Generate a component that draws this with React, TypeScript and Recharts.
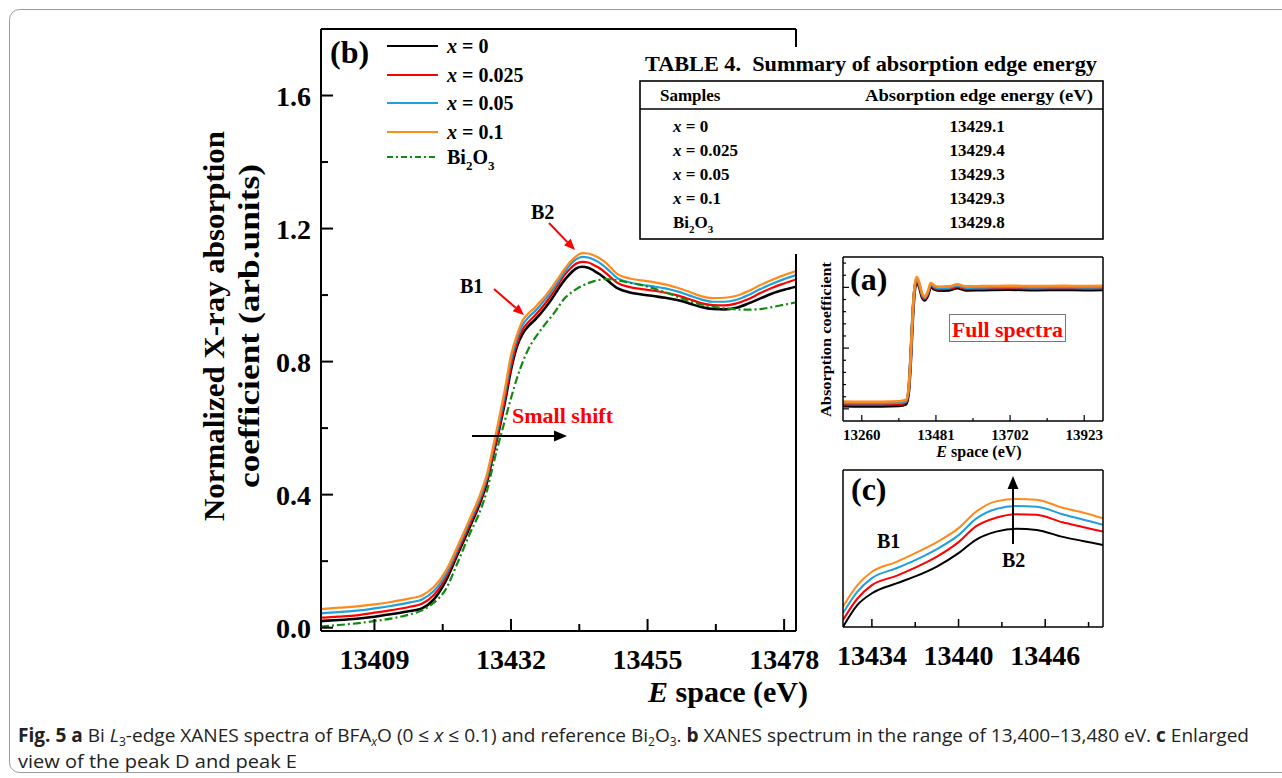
import React from 'react';
import { LineChart, Line, XAxis, YAxis } from 'recharts';

const SERIF = '"Liberation Serif", "Times New Roman", serif';
const SANS = '"Open Sans", "Noto Sans", sans-serif';

// ---- (b) XANES window 13400-13480 eV ----
const energyB = [13400, 13403, 13406, 13409, 13412, 13415, 13417, 13419, 13421, 13423, 13425, 13427,
  13428, 13429, 13430, 13431, 13432, 13433, 13434, 13435, 13436, 13437, 13438, 13439, 13440, 13441, 13442, 13443, 13444, 13445, 13446, 13447, 13448,
  13450, 13452, 13454, 13456, 13458, 13460, 13462, 13464, 13466, 13468, 13470, 13472, 13474, 13476, 13478, 13480];
const blackB = [0.020, 0.023, 0.027, 0.033, 0.041, 0.050, 0.058, 0.085, 0.140, 0.220, 0.300, 0.385,
  0.440, 0.520, 0.595, 0.680, 0.775, 0.845, 0.885, 0.908, 0.925, 0.945, 0.967, 0.992, 1.020, 1.045, 1.065, 1.080, 1.085, 1.082, 1.073, 1.062, 1.048,
  1.020, 1.008, 1.002, 0.997, 0.992, 0.985, 0.975, 0.964, 0.958, 0.957, 0.962, 0.975, 0.990, 1.005, 1.016, 1.025];
const redB = [0.030, 0.033, 0.037, 0.045, 0.053, 0.063, 0.072, 0.098, 0.150, 0.228, 0.308, 0.392,
  0.447, 0.525, 0.602, 0.690, 0.785, 0.855, 0.897, 0.920, 0.938, 0.958, 0.980, 1.005, 1.033, 1.060, 1.080, 1.095, 1.100, 1.098, 1.090, 1.080, 1.066,
  1.036, 1.024, 1.018, 1.013, 1.007, 0.999, 0.988, 0.976, 0.970, 0.969, 0.975, 0.988, 1.006, 1.022, 1.035, 1.047];
const cyanB = [0.043, 0.047, 0.051, 0.058, 0.066, 0.076, 0.085, 0.110, 0.160, 0.237, 0.318, 0.401,
  0.456, 0.538, 0.618, 0.708, 0.805, 0.870, 0.912, 0.934, 0.951, 0.971, 0.992, 1.016, 1.042, 1.069, 1.092, 1.108, 1.115, 1.113, 1.106, 1.096, 1.082,
  1.050, 1.038, 1.031, 1.026, 1.020, 1.011, 0.999, 0.987, 0.980, 0.980, 0.986, 1.000, 1.018, 1.034, 1.048, 1.060];
const orangeB = [0.056, 0.060, 0.064, 0.070, 0.078, 0.088, 0.097, 0.122, 0.170, 0.245, 0.325, 0.410,
  0.465, 0.545, 0.630, 0.720, 0.820, 0.880, 0.925, 0.946, 0.962, 0.982, 1.002, 1.026, 1.052, 1.078, 1.100, 1.117, 1.126, 1.125, 1.119, 1.110, 1.097,
  1.062, 1.050, 1.044, 1.039, 1.032, 1.022, 1.010, 0.997, 0.991, 0.992, 0.998, 1.012, 1.030, 1.046, 1.060, 1.072];
const bi2o3B = [0.003, 0.008, 0.013, 0.020, 0.028, 0.040, 0.052, 0.075, 0.115, 0.195, 0.280, 0.360,
  0.415, 0.490, 0.560, 0.625, 0.690, 0.750, 0.800, 0.840, 0.870, 0.895, 0.918, 0.940, 0.965, 0.990, 1.005, 1.018, 1.028, 1.036, 1.042, 1.046, 1.048,
  1.044, 1.037, 1.030, 1.020, 1.008, 0.995, 0.982, 0.972, 0.965, 0.960, 0.957, 0.956, 0.958, 0.964, 0.971, 0.978];
const xTicksB = [13409, 13420.5, 13432, 13443.5, 13455, 13466.5, 13478];
const xLabelsB = [13409, 13432, 13455, 13478];
const yTicksB = [0, 0.2, 0.4, 0.6, 0.8, 1.0, 1.2, 1.4, 1.6];
const yLabelsB = [0, 0.4, 0.8, 1.2, 1.6];

// ---- (a) full spectra ----
const energyA = [13204, 13260, 13320, 13370, 13392, 13400, 13406, 13412, 13418, 13424, 13432, 13440, 13448, 13456, 13466, 13476,
  13490, 13520, 13545, 13570, 13620, 13700, 13780, 13860, 13923, 13979];
const blackA = [0.024, 0.022, 0.022, 0.026, 0.040, 0.15, 0.42, 0.77, 0.99, 1.055, 1.0, 0.92, 0.895, 0.93, 1.005, 0.985,
  0.975, 0.978, 0.995, 0.978, 0.980, 0.983, 0.980, 0.982, 0.980, 0.982];
const redA = [0.036, 0.034, 0.034, 0.038, 0.052, 0.16, 0.43, 0.78, 1.00, 1.065, 1.01, 0.93, 0.905, 0.94, 1.015, 0.995,
  0.985, 0.988, 1.005, 0.988, 0.990, 0.993, 0.990, 0.992, 0.990, 0.992];
const cyanA = [0.048, 0.046, 0.046, 0.050, 0.063, 0.17, 0.44, 0.79, 1.01, 1.075, 1.02, 0.94, 0.915, 0.95, 1.025, 1.005,
  0.995, 0.998, 1.015, 0.998, 1.000, 1.003, 1.000, 1.002, 1.000, 1.002];
const orangeA = [0.060, 0.058, 0.058, 0.062, 0.075, 0.18, 0.45, 0.80, 1.02, 1.085, 1.03, 0.95, 0.925, 0.96, 1.035, 1.015,
  1.005, 1.008, 1.025, 1.008, 1.010, 1.013, 1.010, 1.012, 1.010, 1.012];
const xTicksA = [13260, 13370.5, 13481, 13591.5, 13702, 13812.5, 13923];
const xLabelsA = [13260, 13481, 13702, 13923];
const yTicksA = [0, 0.1, 0.2, 0.3, 0.4, 0.5, 0.6, 0.7, 0.8, 0.9, 1.0, 1.1, 1.2];
const yLongA = [0, 0.5, 1.0];

// ---- (c) peak zoom ----
const energyC = [13432, 13433, 13434, 13435.7, 13437, 13438.5, 13440, 13441.2, 13442.6, 13444, 13445.4, 13447.2, 13448.6, 13450];
const blackC = [0.900, 0.938, 0.958, 0.975, 0.987, 1.004, 1.027, 1.050, 1.064, 1.069, 1.067, 1.055, 1.048, 1.041];
const redC = [0.912, 0.949, 0.972, 0.988, 1.002, 1.021, 1.046, 1.073, 1.088, 1.094, 1.093, 1.080, 1.072, 1.064];
const cyanC = [0.924, 0.961, 0.984, 1.001, 1.015, 1.034, 1.058, 1.086, 1.103, 1.108, 1.107, 1.094, 1.085, 1.076];
const orangeC = [0.935, 0.972, 0.995, 1.012, 1.027, 1.046, 1.070, 1.098, 1.116, 1.120, 1.119, 1.105, 1.097, 1.087];
const xTicksC = [13434, 13437, 13440, 13443, 13446, 13449];
const xLabelsC = [13434, 13440, 13446];

// ---- table 4 ----
const tableSamples = ['0', '0.025', '0.05', '0.1', 'Bi2O3'];
const tableEdges = ['13429.1', '13429.4', '13429.3', '13429.3', '13429.8'];

const seriesKeys = ['s0', 's1', 's2', 's3', 's4'];
const seriesLabels = ['0', '0.025', '0.05', '0.1', 'Bi2O3'];
const seriesColors = ['#000000', '#ff0000', '#1f9fdc', '#ff8a1c', '#108a10'];

const rowsB = energyB.map((e, i) => ({ e, s0: blackB[i], s1: redB[i], s2: cyanB[i], s3: orangeB[i], s4: bi2o3B[i] }));
const rowsA = energyA.map((e, i) => ({ e, s0: blackA[i], s1: redA[i], s2: cyanA[i], s3: orangeA[i] }));
const rowsC = energyC.map((e, i) => ({ e, s0: blackC[i], s1: redC[i], s2: cyanC[i], s3: orangeC[i] }));

const near = (list: number[], v: number) => list.some((l) => Math.abs(l - v) < 1e-6);

const xTick = (labels: number[], major: number, minor: number, fs: number, dy: number, sw: number) => (props: any) => {
  const { x, y, payload } = props;
  const isMajor = near(labels, payload.value);
  return (
    <g>
      <line x1={x} y1={y} x2={x} y2={y - (isMajor ? major : minor)} stroke="#000" strokeWidth={sw} />
      {isMajor && (
        <text x={x} y={y + dy} textAnchor="middle" fontSize={fs} fontWeight="bold" fontFamily={SERIF} fill="#000">
          {payload.value}
        </text>
      )}
    </g>
  );
};

const yTick = (labels: number[], major: number, minor: number, fs: number, sw: number) => (props: any) => {
  const { x, y, payload } = props;
  const isMajor = near(labels, payload.value);
  return (
    <g>
      <line x1={x} y1={y} x2={x + (isMajor ? major : minor)} y2={y} stroke="#000" strokeWidth={sw} />
      {isMajor && fs > 0 && (
        <text x={x - 10} y={y + 10} textAnchor="end" fontSize={fs} fontWeight="bold" fontFamily={SERIF} fill="#000">
          {Number(payload.value).toFixed(1)}
        </text>
      )}
    </g>
  );
};

const Arrow = ({ x1, y1, x2, y2, color, w = 2, head = 11 }: any) => {
  const a = Math.atan2(y2 - y1, x2 - x1);
  const bx = x2 - head * Math.cos(a);
  const by = y2 - head * Math.sin(a);
  const hw = head * 0.42;
  const p1 = `${bx + hw * Math.sin(a)},${by - hw * Math.cos(a)}`;
  const p2 = `${bx - hw * Math.sin(a)},${by + hw * Math.cos(a)}`;
  return (
    <g>
      <line x1={x1} y1={y1} x2={bx} y2={by} stroke={color} strokeWidth={w} />
      <polygon points={`${x2},${y2} ${p1} ${p2}`} fill={color} />
    </g>
  );
};

const BiO = ({ x, y, fs, anchor = 'start' }: any) => (
  <text x={x} y={y} fontSize={fs} fontWeight="bold" fontFamily={SERIF} textAnchor={anchor}>
    Bi<tspan dy={fs * 0.3} fontSize={fs * 0.65}>2</tspan>
    <tspan dy={-fs * 0.3}>O</tspan>
    <tspan dy={fs * 0.3} fontSize={fs * 0.65}>3</tspan>
  </text>
);

const W = 1282;
const H = 778;

// plot boxes
const B = { l: 321, r: 796, t: 29, b: 631 };
const A = { l: 843, r: 1103, t: 257, b: 421 };
const C = { l: 843, r: 1103, t: 470, b: 627 };

// every axis takes 1px, so the margins leave that room
const margins = (p: { l: number; r: number; t: number; b: number }) => ({ left: p.l - 1, right: W - p.r - 1, top: p.t - 1, bottom: H - p.b - 1 });

const frameAxes = (sw: number) => [
  <XAxis key="xt" xAxisId="top" orientation="top" dataKey="e" type="number" domain={['dataMin', 'dataMax']} height={1} tick={false} tickLine={false}
    axisLine={{ stroke: '#000', strokeWidth: sw }} />,
  <YAxis key="yr" yAxisId="right" orientation="right" width={1} tick={false} tickLine={false}
    axisLine={{ stroke: '#000', strokeWidth: sw }} />,
];

export default function App() {
  return (
    <div style={{ position: 'absolute', left: 0, top: 0, width: W, height: H, background: '#fff', overflow: 'hidden' }}>
      {/* (b) main panel */}
      <div style={{ position: 'absolute', left: 0, top: 0 }}>
        <LineChart width={W} height={H} data={rowsB} margin={margins(B)}>
          <XAxis xAxisId="b" dataKey="e" type="number" domain={[13400, 13480]} allowDataOverflow ticks={xTicksB} interval={0}
            height={1} tickSize={0} tickMargin={0} tickLine={false} axisLine={{ stroke: '#000', strokeWidth: 2 }}
            tick={xTick(xLabelsB, 12, 7, 28, 38, 2)} />
          <YAxis yAxisId="b" type="number" domain={[-0.01, 1.8]} allowDataOverflow ticks={yTicksB} interval={0}
            width={1} tickSize={0} tickMargin={0} tickLine={false} axisLine={{ stroke: '#000', strokeWidth: 2 }}
            tick={yTick(yLabelsB, 12, 7, 28, 2)} />
          {frameAxes(2)}
          {seriesKeys.map((k, i) => (
            <Line key={k} xAxisId="b" yAxisId="b" dataKey={k} type="monotone" dot={false} isAnimationActive={false}
              stroke={seriesColors[i]} strokeWidth={i === 0 ? 2.6 : 2.2} strokeDasharray={i === 4 ? '8 3 2 3' : undefined} />
          ))}
        </LineChart>
      </div>

      {/* (a) full spectra inset */}
      <div style={{ position: 'absolute', left: 0, top: 0 }}>
        <LineChart width={W} height={H} data={rowsA} margin={margins(A)}>
          <XAxis xAxisId="b" dataKey="e" type="number" domain={[13204, 13979]} allowDataOverflow ticks={xTicksA} interval={0}
            height={1} tickSize={0} tickMargin={0} tickLine={false} axisLine={{ stroke: '#000', strokeWidth: 1.5 }}
            tick={xTick(xLabelsA, 6, 3, 15, 19, 1.2)} />
          <YAxis yAxisId="b" type="number" domain={[-0.1, 1.25]} allowDataOverflow ticks={yTicksA} interval={0}
            width={1} tickSize={0} tickMargin={0} tickLine={false} axisLine={{ stroke: '#000', strokeWidth: 1.5 }}
            tick={yTick(yLongA, 6, 3, 0, 1.2)} />
          {frameAxes(1.5)}
          {seriesKeys.slice(0, 4).map((k, i) => (
            <Line key={k} xAxisId="b" yAxisId="b" dataKey={k} type="monotone" dot={false} isAnimationActive={false}
              stroke={seriesColors[i]} strokeWidth={i === 0 ? 3.2 : 2.6} />
          ))}
        </LineChart>
      </div>

      {/* (c) enlarged peak inset */}
      <div style={{ position: 'absolute', left: 0, top: 0 }}>
        <LineChart width={W} height={H} data={rowsC} margin={margins(C)}>
          <XAxis xAxisId="b" dataKey="e" type="number" domain={[13432, 13450]} allowDataOverflow ticks={xTicksC} interval={0}
            height={1} tickSize={0} tickMargin={0} tickLine={false} axisLine={{ stroke: '#000', strokeWidth: 1.5 }}
            tick={xTick(xLabelsC, 8, 5, 28, 38, 1.5)} />
          <YAxis yAxisId="b" type="number" domain={[0.9, 1.17]} allowDataOverflow width={1} tick={false} tickLine={false}
            axisLine={{ stroke: '#000', strokeWidth: 1.5 }} />
          {frameAxes(1.5)}
          {seriesKeys.slice(0, 4).map((k, i) => (
            <Line key={k} xAxisId="b" yAxisId="b" dataKey={k} type="monotone" dot={false} isAnimationActive={false}
              stroke={seriesColors[i]} strokeWidth={2} />
          ))}
        </LineChart>
      </div>

      {/* labels, table, annotations, caption */}
      <svg width={W} height={H} style={{ position: 'absolute', left: 0, top: 0, pointerEvents: 'none' }}>
        <rect x={9.5} y={9.5} width={1300} height={763} rx={10} fill="none" stroke="#9a9a9a" strokeWidth={1} />

        {/* axis titles of (b) */}
        <text x={-521} y={224} transform="rotate(-90)" textLength={390} lengthAdjust="spacingAndGlyphs"
          fontSize={29} fontWeight="bold" fontFamily={SERIF}>Normalized X-ray absorption</text>
        <text x={-488} y={259} transform="rotate(-90)" textLength={324} lengthAdjust="spacingAndGlyphs"
          fontSize={29} fontWeight="bold" fontFamily={SERIF}>coefficient (arb.units)</text>
        <text x={728} y={702} textAnchor="middle" fontSize={30} fontWeight="bold" fontFamily={SERIF}>
          <tspan fontStyle="italic">E</tspan> space (eV)
        </text>

        {/* legend of (b) */}
        <text x={330} y={63} fontSize={32} fontWeight="bold" fontFamily={SERIF}>(b)</text>
        {seriesLabels.map((lab, i) => {
          const ly = [46, 75, 103, 132, 157][i];
          return (
            <g key={lab}>
              <line x1={387} x2={438} y1={ly} y2={ly} stroke={seriesColors[i]} strokeWidth={2}
                strokeDasharray={i === 4 ? '6 3 2 3' : undefined} />
              {i < 4 ? (
                <text x={447} y={ly + 7} fontSize={20} fontWeight="bold" fontFamily={SERIF}>
                  <tspan fontStyle="italic">x</tspan> = {lab}
                </text>
              ) : (
                <BiO x={447} y={ly + 7} fs={20} />
              )}
            </g>
          );
        })}

        {/* table 4 */}
        <rect x={628} y={47} width={482} height={207} fill="#fff" />
        <text x={645} y={71} textLength={452} lengthAdjust="spacingAndGlyphs" fontSize={21} fontWeight="bold" fontFamily={SERIF}>
          {'TABLE 4.\u00a0 Summary of absorption edge energy'}
        </text>
        <rect x={640} y={81} width={463} height={158} fill="none" stroke="#000" strokeWidth={1.6} />
        <line x1={640} x2={1103} y1={109} y2={109} stroke="#000" strokeWidth={1.6} />
        <text x={660} y={101} fontSize={17} fontWeight="bold" fontFamily={SERIF}>Samples</text>
        <text x={865} y={101} textLength={228} lengthAdjust="spacingAndGlyphs" fontSize={17} fontWeight="bold" fontFamily={SERIF}>
          Absorption edge energy (eV)
        </text>
        {tableSamples.map((s, i) => {
          const ty = 132 + i * 24;
          return (
            <g key={s}>
              {s === 'Bi2O3' ? (
                <BiO x={673} y={ty} fs={17} />
              ) : (
                <text x={673} y={ty} fontSize={17} fontWeight="bold" fontFamily={SERIF}>
                  <tspan fontStyle="italic">x</tspan> = {s}
                </text>
              )}
              <text x={977} y={ty} textAnchor="middle" fontSize={17} fontWeight="bold" fontFamily={SERIF}>{tableEdges[i]}</text>
            </g>
          );
        })}

        {/* annotations in (b) */}
        <text x={531} y={219} fontSize={20} fontWeight="bold" fontFamily={SERIF}>B2</text>
        <Arrow x1={549} y1={223} x2={575} y2={250} color="#ff0000" w={2} />
        <text x={460} y={293} fontSize={20} fontWeight="bold" fontFamily={SERIF}>B1</text>
        <Arrow x1={494} y1={289} x2={524} y2={315} color="#ff0000" w={2} />
        <text x={512} y={423} textLength={101} lengthAdjust="spacingAndGlyphs" fontSize={21} fontWeight="bold" fontFamily={SERIF} fill="#ff0000">
          Small shift
        </text>
        <Arrow x1={472} y1={436} x2={567} y2={436} color="#000" w={2} head={13} />

        {/* (a) labels */}
        <text x={850} y={290} fontSize={32} fontWeight="bold" fontFamily={SERIF}>(a)</text>
        <text x={-417} y={831} transform="rotate(-90)" textLength={155} lengthAdjust="spacingAndGlyphs"
          fontSize={14} fontWeight="bold" fontFamily={SERIF}>Absorption coefficient</text>
        <text x={979} y={457} textAnchor="middle" fontSize={16} fontWeight="bold" fontFamily={SERIF}>
          <tspan fontStyle="italic">E</tspan> space (eV)
        </text>
        <rect x={949.5} y={314.5} width={116} height={27} fill="#fff" stroke="#777" strokeWidth={1} />
        <text x={952} y={337} textLength={111} lengthAdjust="spacingAndGlyphs" fontSize={22} fontWeight="bold" fontFamily={SERIF} fill="#ff0000">
          Full spectra
        </text>

        {/* (c) labels */}
        <text x={851} y={500} fontSize={32} fontWeight="bold" fontFamily={SERIF}>(c)</text>
        <text x={877} y={548} fontSize={20} fontWeight="bold" fontFamily={SERIF}>B1</text>
        <text x={1002} y={567} fontSize={20} fontWeight="bold" fontFamily={SERIF}>B2</text>
        <Arrow x1={1013} y1={544} x2={1013} y2={476} color="#000" w={2} head={13} />

        {/* caption */}
        <text x={18} y={742} textLength={1231} lengthAdjust="spacingAndGlyphs" fontSize={19} fontFamily={SANS} fill="#222">
          <tspan fontWeight="bold">Fig. 5 a</tspan> Bi <tspan fontStyle="italic">L</tspan>
          <tspan dy={4} fontSize={12}>3</tspan>
          <tspan dy={-4}>-edge XANES spectra of BFA</tspan>
          <tspan dy={4} fontSize={12} fontStyle="italic">x</tspan>
          <tspan dy={-4}>O (0 ≤ </tspan><tspan fontStyle="italic">x</tspan> ≤ 0.1) and reference Bi
          <tspan dy={4} fontSize={12}>2</tspan>
          <tspan dy={-4}>O</tspan>
          <tspan dy={4} fontSize={12}>3</tspan>
          <tspan dy={-4}>. </tspan><tspan fontWeight="bold">b</tspan> XANES spectrum in the range of 13,400–13,480 eV.{' '}
          <tspan fontWeight="bold">c</tspan> Enlarged
        </text>
        <text x={18} y={768} textLength={279} lengthAdjust="spacingAndGlyphs" fontSize={19} fontFamily={SANS} fill="#222">
          view of the peak D and peak E
        </text>
      </svg>
    </div>
  );
}
